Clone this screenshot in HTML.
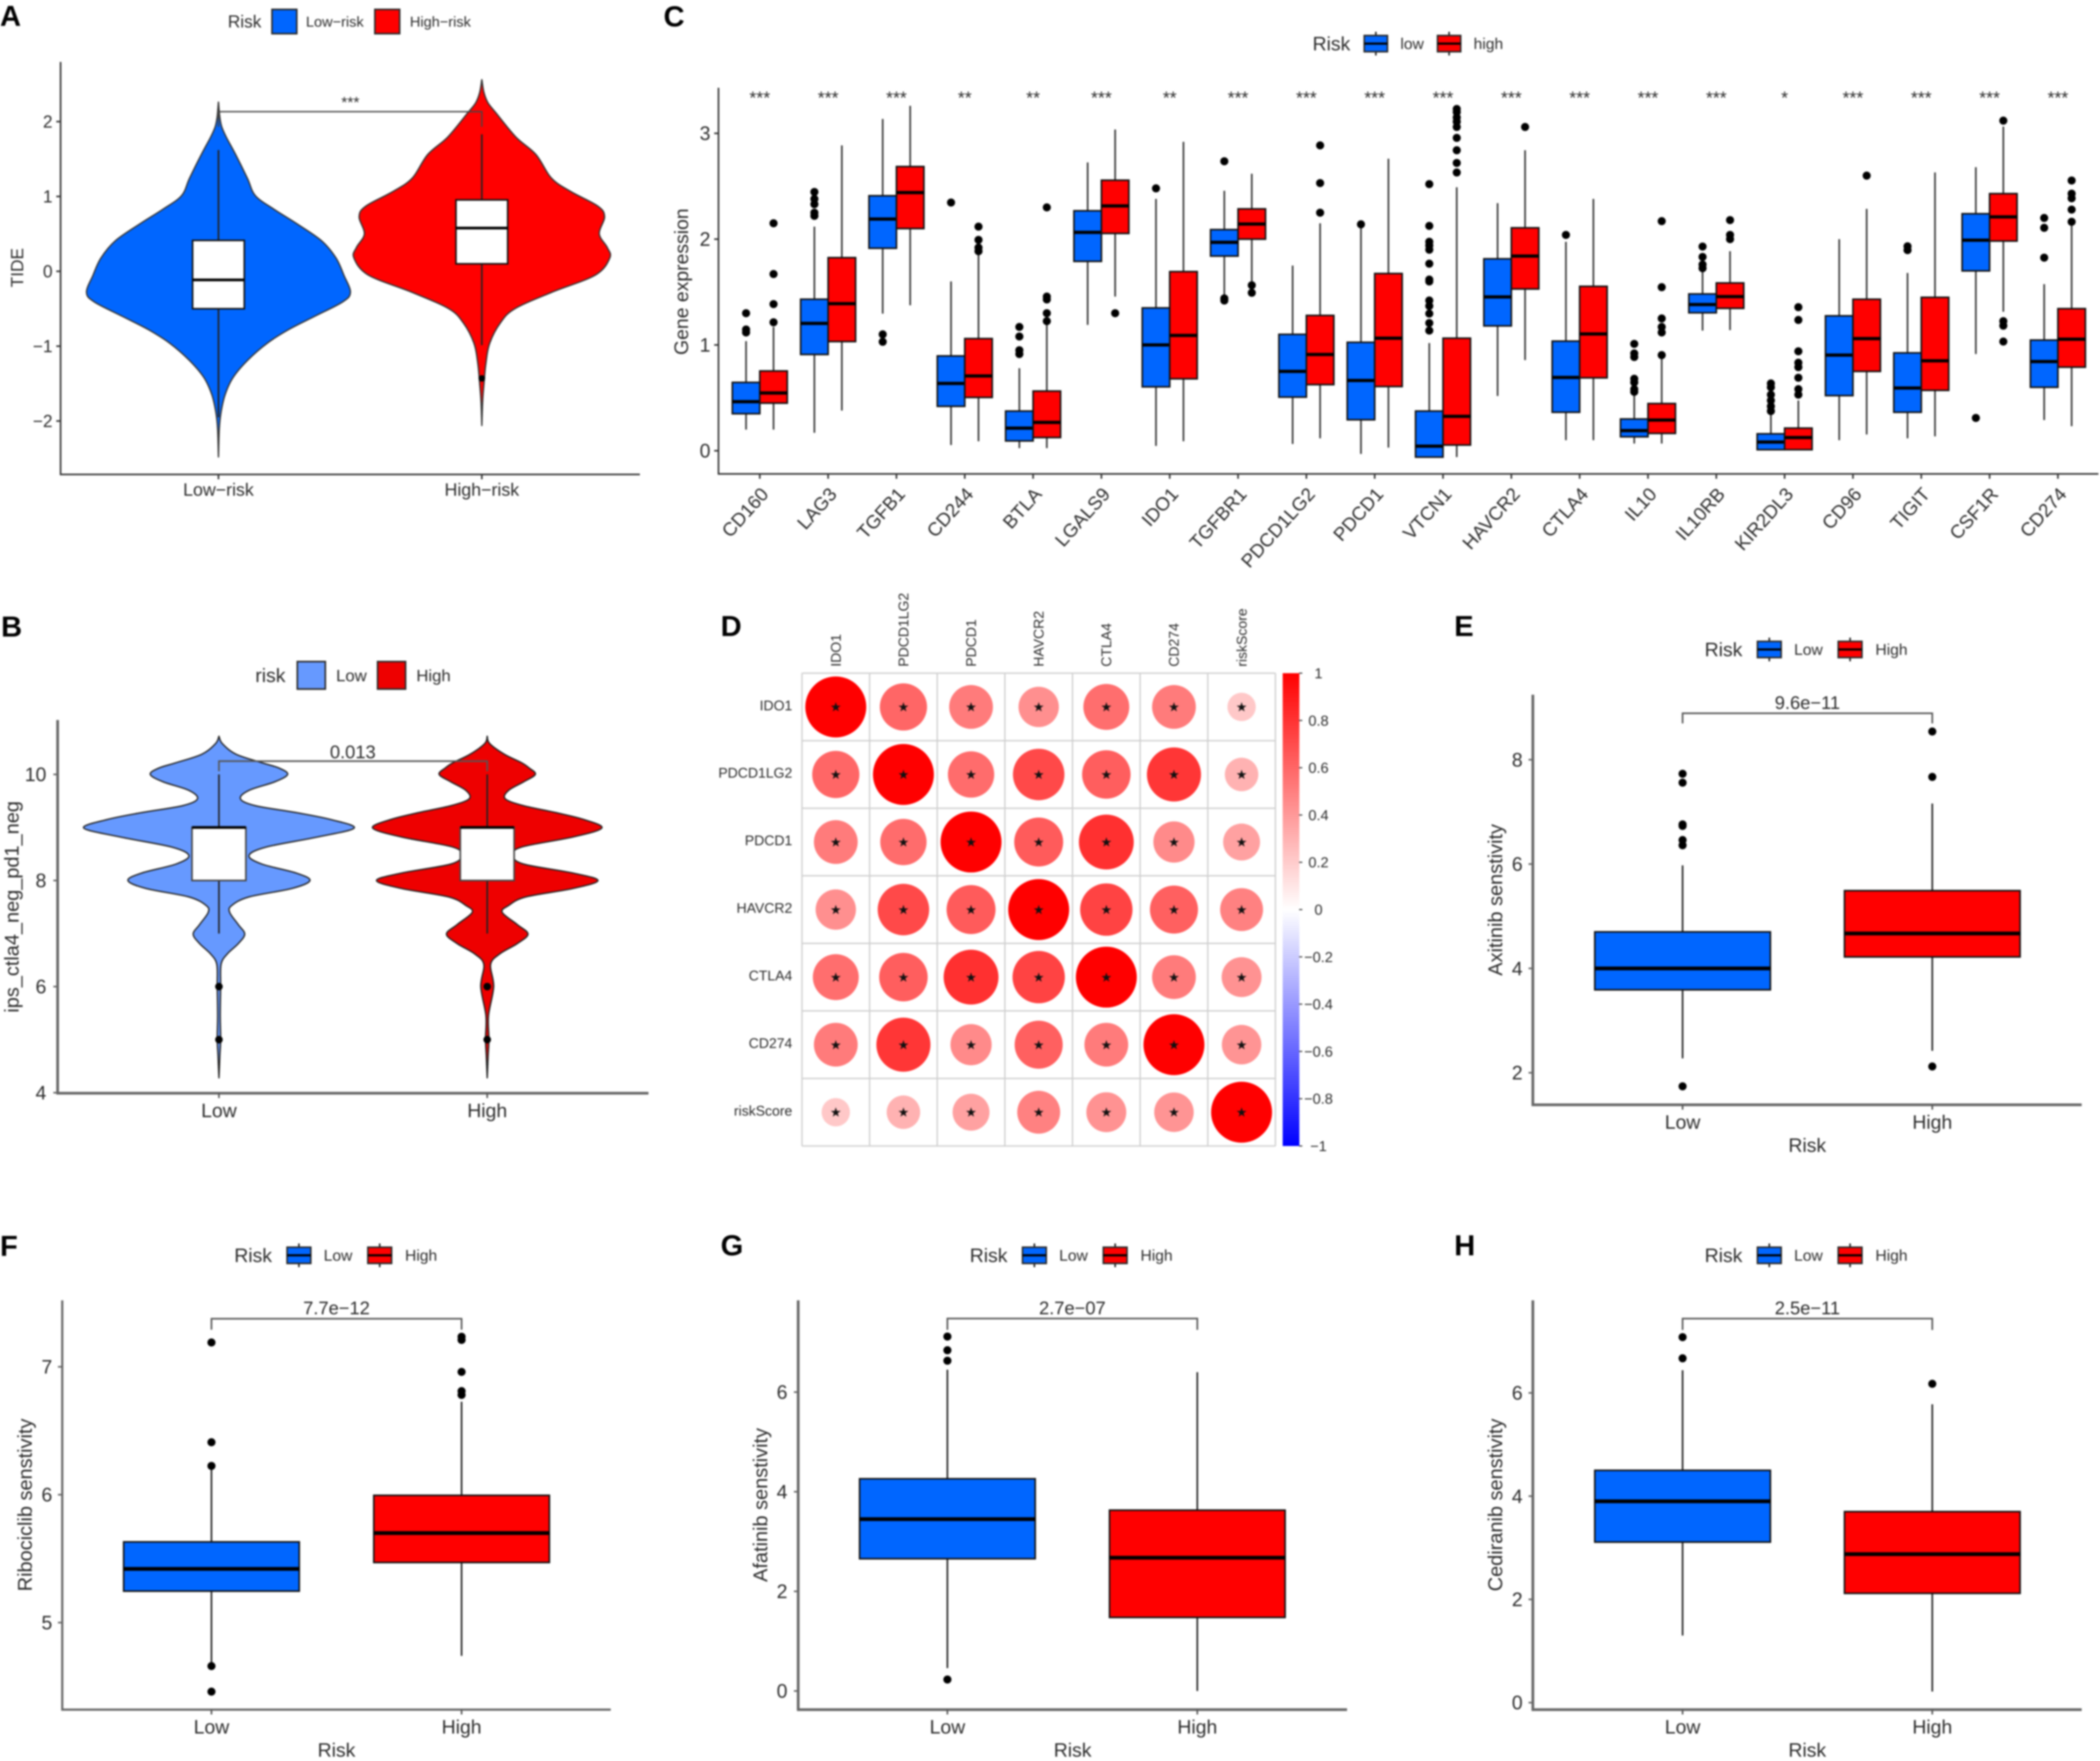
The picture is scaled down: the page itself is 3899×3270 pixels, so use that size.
<!DOCTYPE html>
<html lang="en">
<head>
<meta charset="utf-8">
<title>Immune and drug sensitivity figure</title>
<style>
html,body{margin:0;padding:0;background:#fff;}
#figure{display:block;filter:blur(1.6px);font-family:"Liberation Sans",sans-serif;}
</style>
</head>
<body>
<svg id="figure" xmlns="http://www.w3.org/2000/svg" width="3899" height="3270" viewBox="0 0 3899 3270">
  <defs>
    <linearGradient id="corr-gradient" x1="0" y1="0" x2="0" y2="1">
      <stop offset="0" stop-color="#ff0000"/>
      <stop offset="0.5" stop-color="#ffffff"/>
      <stop offset="1" stop-color="#0000ff"/>
    </linearGradient>
  </defs>
  <rect x="0" y="0" width="3899" height="3270" fill="#ffffff"/>
  <g id="panel-a"></g>
  <g id="panel-b"></g>
  <g id="panel-c"></g>
  <g id="panel-d"></g>
  <g id="panel-e"></g>
  <g id="panel-f"></g>
  <g id="panel-g"></g>
  <g id="panel-h"></g>
</svg>
<script>
/* ---------- Panel A data ---------- */
const aTicks = [-2, -1, 0, 1, 2];
const aCategories = ['Low\u2212risk', 'High\u2212risk'];
const aLowY = [2.26,2.06,1.93,1.79,1.56,1.24,1.01,0.83,0.64,0.41,0.18,-0.05,-0.28,-0.41,-0.60,-0.78,-0.96,-1.19,-1.42,-1.65,-1.88,-2.11,-2.48];
const aLowDensity = [0,1,2.5,6,13,22,28,42,59,78,89,95,100,94,73,53,37,22,11,5,2,0.6,0];
const aHighY = [2.56,2.39,2.25,2.11,1.79,1.56,1.24,1.06,0.87,0.73,0.50,0.32,0.18,-0.05,-0.28,-0.50,-0.69,-0.96,-1.24,-1.51,-1.74,-2.06];
const aHighDensity = [0,1.6,4.7,11,26,41,53,68,88,93,89,95,97,86,53,25,14,6,3,1.6,0.6,0];
/* box tuples: q3, q1, median, whisker top, whisker bottom */
const aLowBox = [0.413,-0.50,-0.115,1.62,-1.95];
const aHighBox = [0.954,0.10,0.578,1.83,-0.986];
const aLowOut = [];
const aHighOut = [-1.43];
const aBracket = [2.133,1.93];

/* ---------- Panel B data ---------- */
const bTicks = [4, 6, 8, 10];
const bCategories = ['Low', 'High'];
const bY = [10.72,10.58,10.38,10.22,10.12,10,9.86,9.70,9.54,9.41,9.28,9.15,8.99,8.82,8.63,8.47,8.31,8.14,8,7.85,7.69,7.53,7.40,7.17,6.99,6.81,6.62,6.42,6,5.45,5.01,4.67,4.28];
const bLowDensity = [0,8,40,100,140,160,130,70,50,85,180,260,315,230,110,70,100,180,212,170,70,30,25,45,60,45,20,5,4,3,4,2,0];
const bHighDensity = [0,6,40,80,98,112,85,50,42,85,160,225,267,200,80,60,85,200,258,200,90,50,35,70,95,70,30,8,15,3,4,2,0];
const bLowBox = [9,8,9,10,7];
const bHighBox = [9,8,9,10,7];
const bLowOut = [6,5];
const bHighOut = [6,5];
const bBracket = [10.25,10.06];

/* ---------- Panel C data ---------- */
const cGenes = ['CD160','LAG3','TGFB1','CD244','BTLA','LGALS9','IDO1','TGFBR1','PDCD1LG2','PDCD1','VTCN1','HAVCR2','CTLA4','IL10','IL10RB','KIR2DL3','CD96','TIGIT','CSF1R','CD274'];
const cTicks = [0, 1, 2, 3];
const cStars = ['***','***','***','**','**','***','**','***','***','***','***','***','***','***','***','*','***','***','***','***'];
const cLowBoxes = [
 [0.646,0.35,0.464,1.036,0.2],[1.432,0.91,1.204,2.118,0.17],[2.41,1.914,2.19,3.136,1.296],[0.896,0.42,0.636,1.6,0.054],[0.375,0.093,0.214,0.78,0.025],
 [2.268,1.79,2.064,2.725,1.19],[1.35,0.604,1.0,2.38,0.046],[2.09,1.84,1.97,2.457,1.46],[1.1,0.507,0.75,1.75,0.064],[1.025,0.293,0.664,2.118,-0.03],
 [0.375,-0.06,0.043,1.018,-0.06],[1.814,1.18,1.454,2.34,0.518],[1.036,0.364,0.693,1.975,0.1],[0.3,0.132,0.19,0.546,0.068],[1.482,1.304,1.382,1.707,1.136],
 [0.16,0.01,0.082,0.35,0.01],[1.275,0.521,0.904,2.0,0.1],[0.925,0.364,0.593,1.68,0.118],[2.24,1.7,1.99,2.68,0.914],[1.046,0.6,0.843,1.575,0.29]
];
const cHighBoxes = [
 [0.754,0.45,0.546,1.17,0.2],[1.825,1.032,1.39,2.886,0.38],[2.686,2.1,2.44,3.26,1.375],[1.06,0.504,0.707,1.886,0.09],[0.564,0.125,0.268,1.225,0.025],
 [2.557,2.054,2.314,3.036,1.457],[1.693,0.68,1.09,2.92,0.09],[2.286,2.0,2.143,2.618,1.6],[1.279,0.625,0.91,2.15,0.118],[1.675,0.607,1.064,2.76,0.03],
 [1.064,0.054,0.325,2.49,-0.06],[2.107,1.529,1.84,2.84,0.857],[1.554,0.689,1.104,2.38,0.1],[0.446,0.164,0.29,0.886,0.068],[1.586,1.346,1.457,1.886,1.14],
 [0.214,0.01,0.125,0.475,0.01],[1.432,0.75,1.06,2.286,0.154],[1.45,0.571,0.85,2.63,0.136],[2.43,1.982,2.21,3.064,1.314],[1.343,0.79,1.054,2.154,0.232]
];
const cLowOutliers = [
 [1.30,1.146,1.118],[2.446,2.38,2.33,2.25,2.22],[1.1,1.03],[2.346],[1.17,1.08,0.95,0.914],
 [],[2.48],[2.736,1.44,1.42],[],[2.14],
 [2.52,2.125,1.975,1.94,1.90,1.768,1.618,1.6,1.42,1.368,1.296,1.207,1.136],[],[2.04],[1.01,0.92,0.886,0.68,0.646,0.582,0.557],[1.93,1.832,1.76,1.725],
 [0.636,0.6,0.53,0.475,0.42,0.375],[],[1.932,1.896],[0.31],[2.2,2.107,1.825]
];
const cHighOutliers = [
 [1.214,1.386,1.67,2.15],[],[],[2.118,1.993,1.92,1.886],[2.30,1.457,1.43,1.30,1.225],
 [1.30],[],[1.564,1.493],[2.886,2.53,2.25],[],
 [3.23,3.2,3.15,3.11,3.06,2.957,2.84,2.72,2.63],[3.06],[],[2.17,1.546,1.25,1.17,1.118,0.904],[2.18,2.04,2.0],
 [1.357,1.236,0.94,0.832,0.79,0.69,0.582,0.53],[2.6],[],[3.12,1.225,1.182,1.032],[2.554,2.43,2.386,2.279,2.164]
];

/* ---------- Panel D data ---------- */
const dLabels = ['IDO1','PDCD1LG2','PDCD1','HAVCR2','CTLA4','CD274','riskScore'];
const dMatrix = [
 [1,0.60,0.516,0.438,0.568,0.516,0.216],
 [0.60,1,0.578,0.714,0.633,0.787,0.302],
 [0.516,0.578,1,0.645,0.81,0.457,0.367],
 [0.438,0.714,0.645,1,0.738,0.622,0.496],
 [0.568,0.633,0.81,0.738,1,0.516,0.429],
 [0.516,0.787,0.457,0.622,0.516,1,0.42],
 [0.216,0.302,0.367,0.496,0.429,0.42,1]
];
const dBarTicks = [1,0.8,0.6,0.4,0.2,0,-0.2,-0.4,-0.6,-0.8,-1];

/* ---------- Panels E-H data ---------- */
const drugCategories = ['Low','High'];
const eTicks = [2,4,6,8];
const eLowBox = [4.70,3.59,4.0,5.975,2.276];
const eHighBox = [5.49,4.22,4.67,7.16,2.42];
const eLowOut = [7.73,7.56,6.76,6.73,6.46,6.36,1.74];
const eHighOut = [8.54,7.67,2.12];
const eBracket = [8.89,8.696];

const fTicks = [5,6,7];
const fLowBox = [5.631,5.246,5.42,6.2,4.67];
const fHighBox = [5.995,5.47,5.70,6.727,4.74];
const fLowOut = [7.19,6.41,6.225,4.66,4.46];
const fHighOut = [7.235,7.21,6.96,6.81,6.78];
const fBracket = [7.376,7.29];

const gTicks = [0,2,4,6];
const gLowBox = [4.26,2.655,3.45,6.45,0.46];
const gHighBox = [3.63,1.477,2.676,6.4,0];
const gLowOut = [7.115,6.84,6.63,0.23];
const gHighOut = [];
const gBracket = [7.477,7.25];

const hTicks = [0,2,4,6];
const hLowBox = [4.5,3.11,3.9,6.44,1.3];
const hHighBox = [3.7,2.117,2.876,5.78,0.215];
const hLowOut = [7.08,6.67];
const hHighOut = [6.176];
const hBracket = [7.44,7.22];

/* ---------- Helpers ---------- */
const SVG_NS = 'http://www.w3.org/2000/svg';
const BLUE = '#0066ff', RED = '#ff0000', INK = '#2b2b2b';

function mk(parent, tag, name, attrs) {
  const el = document.createElementNS(SVG_NS, tag);
  
  
  for (const k in attrs) el.setAttribute(k, attrs[k]);
  parent.appendChild(el);
  return el;
}
function panel(id) { return document.getElementById(id); }
function axisScale(v0, p0, v1, p1) { return v => p0 + (v - v0) * (p1 - p0) / (v1 - v0); }
function txt(parent, name, x, y, str, o) {
  o = o || {};
  const a = { x: x, y: y, 'font-size': o.size || 36, 'text-anchor': o.anchor || 'middle', fill: o.fill || INK };
  if (!o.baseline) a.dy = '0.35em';
  if (o.weight) a['font-weight'] = o.weight;
  if (o.family) a['font-family'] = o.family;
  if (o.rot) a.transform = 'rotate(' + o.rot + ' ' + x + ' ' + y + ')';
  const el = mk(parent, 'text', name, a);
  el.textContent = str;
  return el;
}
function line(parent, name, x1, y1, x2, y2, color, w) {
  return mk(parent, 'line', name, { x1: x1, y1: y1, x2: x2, y2: y2, stroke: color, 'stroke-width': w });
}
function fmt(v) { return String(v).replace('-', '\u2212'); }

function axes(g, o) {
  line(g, 'y-axis-line', o.x0, o.top, o.x0, o.bottom + o.w / 2, o.color, o.w);
  line(g, 'x-axis-line', o.x0, o.bottom, o.right, o.bottom, o.color, o.w);
  o.ticks.forEach(t => {
    line(g, 'y-axis-tick', o.x0 - 8, o.y(t), o.x0, o.y(t), o.color, 3);
    txt(g, 'y-tick-label', o.x0 - o.labelGap, o.y(t), fmt(t), { anchor: 'end', size: o.tickSize });
  });
}
function catTick(g, x, bottom, color, label, labelY, size) {
  line(g, 'x-axis-tick', x, bottom, x, bottom + 9, color, 3);
  if (label) txt(g, 'x-tick-label', x, labelY, label, { size: size });
}

function drawBox(g, x, halfW, stats, outliers, fill, y, s) {
  const q3 = stats[0], q1 = stats[1], med = stats[2], top = stats[3], bot = stats[4];
  line(g, 'whisker', x, y(top), x, y(bot), s.whisker || '#222', s.lw);
  mk(g, 'rect', 'box', { x: x - halfW, y: y(q3), width: 2 * halfW, height: y(q1) - y(q3), fill: fill, stroke: s.stroke || '#111', 'stroke-width': s.lw });
  line(g, 'median-line', x - halfW, y(med), x + halfW, y(med), '#000', s.medLw);
  outliers.forEach(v => {
    mk(g, 'circle', 'outlier-point', { cx: x, cy: y(v), r: s.r, fill: '#000' });
  });
}

function smoothSide(pts) {
  /* Catmull-Rom through points, returned as cubic Bezier segments */
  let d = '';
  for (let i = 0; i < pts.length - 1; i++) {
    const p0 = pts[Math.max(i - 1, 0)], p1 = pts[i], p2 = pts[i + 1], p3 = pts[Math.min(i + 2, pts.length - 1)];
    const c1x = p1[0] + (p2[0] - p0[0]) / 6, c1y = p1[1] + (p2[1] - p0[1]) / 6;
    const c2x = p2[0] - (p3[0] - p1[0]) / 6, c2y = p2[1] - (p3[1] - p1[1]) / 6;
    d += 'C' + c1x.toFixed(1) + ' ' + c1y.toFixed(1) + ' ' + c2x.toFixed(1) + ' ' + c2y.toFixed(1) + ' ' + p2[0].toFixed(1) + ' ' + p2[1].toFixed(1);
  }
  return d;
}
function violin(g, name, cx, values, density, k, y, fill, stroke, lw) {
  const right = values.map((v, i) => [cx + density[i] * k, y(v)]);
  const left = values.map((v, i) => [cx - density[i] * k, y(v)]).reverse();
  const d = 'M' + right[0][0] + ' ' + right[0][1] + smoothSide(right) + smoothSide(left) + 'Z';
  mk(g, 'path', name, { d: d, fill: fill, stroke: stroke, 'stroke-width': lw, 'stroke-linejoin': 'round' });
}
function bracket(g, x1, x2, y, bracketVals, color, w) {
  const yTop = y(bracketVals[0]), yTip = y(bracketVals[1]);
  mk(g, 'path', 'significance-bracket', { d: 'M' + x1 + ' ' + yTip + 'L' + x1 + ' ' + yTop + 'L' + x2 + ' ' + yTop + 'L' + x2 + ' ' + yTip, fill: 'none', stroke: color, 'stroke-width': w });
}
function legend(g, o) {
  txt(g, 'legend-title', o.titleX, o.y, o.title, { anchor: 'start', size: o.titleSize || 36 });
  o.items.forEach(it => {
    const h = o.swH, w = o.swW;
    if (o.boxKey) {
      line(g, 'legend-key-whisker', it.x + w / 2, o.y - h / 2 - 7, it.x + w / 2, o.y + h / 2 + 7, '#222', 3);
    }
    mk(g, 'rect', 'legend-key', { x: it.x, y: o.y - h / 2, width: w, height: h, fill: it.fill, stroke: '#2a2a2a', 'stroke-width': 3 });
    if (o.boxKey) {
      line(g, 'legend-key-median', it.x, o.y, it.x + w, o.y, '#000', 4);
    }
    txt(g, 'legend-entry', it.tx, o.y, it.label, { anchor: 'start', size: o.size || 29 });
  });
}

/* ---------- Panel letters ---------- */
function letter(id, ch, x, y) {
  txt(panel(id), 'panel-label', x, y, ch, { anchor: 'start', size: 54, weight: 'bold', fill: '#000', baseline: true });
}
letter('panel-a', 'A', 0, 48);
letter('panel-b', 'B', 2, 1182);
letter('panel-c', 'C', 1232, 49);
letter('panel-d', 'D', 1338, 1181);
letter('panel-e', 'E', 2700, 1181);
letter('panel-f', 'F', 0, 2332);
letter('panel-g', 'G', 1338, 2331);
letter('panel-h', 'H', 2700, 2331);

/* ---------- Panel A ---------- */
(function () {
  const g = panel('panel-a');
  const y = axisScale(0, 503.8, 2, 225.8);
  const xs = [405.6, 894.6];
  legend(g, { title: 'Risk', titleX: 423, y: 40, titleSize: 32, swW: 46, swH: 45, size: 27,
    items: [{ x: 505, fill: BLUE, tx: 568, label: 'Low\u2212risk' }, { x: 696, fill: RED, tx: 761, label: 'High\u2212risk' }] });
  violin(g, 'violin-low-risk', xs[0], aLowY, aLowDensity, 2.45, y, BLUE, '#333', 2.5);
  violin(g, 'violin-high-risk', xs[1], aHighY, aHighDensity, 2.45, y, RED, '#333', 2.5);
  drawBox(g, xs[0], 48, aLowBox, aLowOut, '#ffffff', y, { lw: 3, medLw: 5, r: 6 });
  drawBox(g, xs[1], 48, aHighBox, aHighOut, '#ffffff', y, { lw: 3, medLw: 5, r: 6 });
  bracket(g, xs[0], xs[1], y, aBracket, '#444', 2.5);
  txt(g, 'significance-stars', 650.5, 189.7, '***', { size: 29 });
  axes(g, { x0: 112.5, top: 115, bottom: 881, right: 1188, w: 3, color: '#333', ticks: aTicks, y: y, labelGap: 15, tickSize: 32 });
  xs.forEach((x, i) => catTick(g, x, 881, '#333', aCategories[i], 909, 33));
  txt(g, 'y-axis-title', 32, 497, 'TIDE', { size: 32, rot: -90 });
})();

/* ---------- Panel B ---------- */
(function () {
  const g = panel('panel-b');
  const y = axisScale(8, 1635, 10, 1438);
  const xs = [406.5, 904.6];
  legend(g, { title: 'risk', titleX: 474, y: 1254, swW: 52, swH: 51, size: 31,
    items: [{ x: 552, fill: '#6699ff', tx: 624, label: 'Low' }, { x: 701, fill: '#ee0000', tx: 773, label: 'High' }] });
  violin(g, 'violin-low', xs[0], bY, bLowDensity, 0.797, y, '#6699ff', '#222', 2.5);
  violin(g, 'violin-high', xs[1], bY, bHighDensity, 0.797, y, '#ee0000', '#222', 2.5);
  drawBox(g, xs[0], 50, bLowBox, bLowOut, '#ffffff', y, { lw: 3, medLw: 5, r: 7, stroke: '#444' });
  drawBox(g, xs[1], 50, bHighBox, bHighOut, '#ffffff', y, { lw: 3, medLw: 5, r: 7, stroke: '#444' });
  bracket(g, xs[0], xs[1], y, bBracket, '#555', 3);
  txt(g, 'p-value-label', 655, 1396, '0.013', { size: 34 });
  axes(g, { x0: 107, top: 1337, bottom: 2030, right: 1204, w: 5, color: '#666', ticks: bTicks, y: y, labelGap: 21, tickSize: 36 });
  xs.forEach((x, i) => catTick(g, x, 2030, '#555', bCategories[i], 2062, 36));
  txt(g, 'y-axis-title', 21.5, 1684, 'ips_ctla4_neg_pd1_neg', { size: 37, rot: -90 });
})();

/* ---------- Panel C ---------- */
(function () {
  const g = panel('panel-c');
  const y = axisScale(0, 837, 3, 247.6);
  const band = i => 1410.7 + i * 126.85;
  legend(g, { title: 'Risk', titleX: 2437, y: 81, swW: 43, swH: 30, size: 29, boxKey: true,
    items: [{ x: 2533, fill: BLUE, tx: 2600, label: 'low' }, { x: 2669, fill: RED, tx: 2736, label: 'high' }] });
  cGenes.forEach((gene, i) => {
    const x = band(i);
    drawBox(g, x - 25.5, 25.5, cLowBoxes[i], cLowOutliers[i], BLUE, y, { lw: 3, medLw: 6, r: 7.5, whisker: '#333' });
    drawBox(g, x + 25.5, 25.5, cHighBoxes[i], cHighOutliers[i], RED, y, { lw: 3, medLw: 6, r: 7.5, whisker: '#333' });
    txt(g, 'significance-stars', x, 181.5, cStars[i], { size: 33 });
    line(g, 'x-axis-tick', x, 880, x, 889, '#333', 3);
    txt(g, 'gene-label', x + 18, 919, gene, { size: 35, anchor: 'end', rot: -48, baseline: true });
  });
  axes(g, { x0: 1334, top: 163, bottom: 880, right: 3896, w: 3, color: '#333', ticks: cTicks, y: y, labelGap: 15, tickSize: 36 });
  txt(g, 'y-axis-title', 1265, 523, 'Gene expression', { size: 36, rot: -90 });
})();

/* ---------- Panel D ---------- */
(function () {
  const g = panel('panel-d');
  const n = dLabels.length;
  const colX = axisScale(0, 1489, n, 2368);
  const rowY = axisScale(0, 1250, n, 2128);
  for (let i = 0; i <= n; i++) {
    line(g, 'grid-line-vertical', colX(i), rowY(0), colX(i), rowY(n), '#cfcfcf', 2.5);
    line(g, 'grid-line-horizontal', colX(0), rowY(i), colX(n), rowY(i), '#cfcfcf', 2.5);
  }
  dLabels.forEach((lab, i) => {
    txt(g, 'column-label', colX(i + 0.5), 1238, lab, { size: 26, anchor: 'start', rot: -90 });
    txt(g, 'row-label', 1471, rowY(i + 0.5) - 3, lab, { size: 26, anchor: 'end' });
  });
  const maxR = 56.6;
  dMatrix.forEach((row, r) => row.forEach((val, c) => {
    const shade = Math.round(255 * (1 - val));
    const cx = colX(c + 0.5), cy = rowY(r + 0.5);
    mk(g, 'circle', 'correlation-circle', { cx: cx, cy: cy, r: maxR * Math.sqrt(val), fill: 'rgb(255,' + shade + ',' + shade + ')' });
    txt(g, 'significance-star', cx, cy, '\u2605', { size: 24, fill: '#111', family: '"DejaVu Sans",sans-serif' });
  }));
  const barY = axisScale(1, 1250, -1, 2128);
  mk(g, 'rect', 'colorbar', { x: 2381.5, y: 1250, width: 31, height: 878, fill: 'url(#corr-gradient)' });
  dBarTicks.forEach(t => {
    line(g, 'colorbar-tick', 2412, barY(t), 2418, barY(t), '#333', 2);
    txt(g, 'colorbar-label', 2448, barY(t), fmt(t), { size: 27 });
  });
})();

/* ---------- Panels E-H ---------- */
function drugPanel(id, o) {
  const g = panel(id);
  const y = axisScale(o.tickA, o.pxA, o.tickB, o.pxB);
  const xs = [o.xLow, o.xHigh];
  legend(g, { title: 'Risk', titleX: o.legX, y: o.legY, swW: 44, swH: 30, size: 29, boxKey: true,
    items: [{ x: o.legX + 98, fill: BLUE, tx: o.legX + 166, label: 'Low' }, { x: o.legX + 248, fill: RED, tx: o.legX + 317, label: 'High' }] });
  const style = { lw: 3, medLw: 7, r: 7.5, whisker: '#222' };
  drawBox(g, xs[0], 163, o.lowBox, o.lowOut, BLUE, y, style);
  drawBox(g, xs[1], 163, o.highBox, o.highOut, RED, y, style);
  bracket(g, xs[0], xs[1], y, o.bracket, '#555', 3);
  txt(g, 'p-value-label', (xs[0] + xs[1]) / 2, y(o.bracket[0]) - 20, o.pValue, { size: 34 });
  axes(g, { x0: o.x0, top: o.top, bottom: o.bottom, right: o.right, w: o.axisW, color: '#666', ticks: o.ticks, y: y, labelGap: o.labelGap, tickSize: 36 });
  xs.forEach((x, i) => catTick(g, x, o.bottom, '#555', drugCategories[i], o.bottom + 32, 36));
  txt(g, 'x-axis-title', (o.x0 + o.right) / 2, o.bottom + 75, 'Risk', { size: 36 });
  txt(g, 'y-axis-title', o.yTitleX, o.yTitleY, o.yTitle, { size: 37, rot: -90 });
}
drugPanel('panel-e', { tickA: 2, pxA: 1992, tickB: 8, pxB: 1410.7, xLow: 3124, xHigh: 3587.6, legX: 3165, legY: 1206,
  lowBox: eLowBox, highBox: eHighBox, lowOut: eLowOut, highOut: eHighOut, bracket: eBracket, pValue: '9.6e\u221211', ticks: eTicks,
  x0: 2846, top: 1290, bottom: 2051.5, right: 3865, axisW: 5, labelGap: 19, yTitleX: 2776, yTitleY: 1671, yTitle: 'Axitinib senstivity' });
drugPanel('panel-f', { tickA: 5, pxA: 3013, tickB: 7, pxB: 2538, xLow: 392.6, xHigh: 857, legX: 435, legY: 2331,
  lowBox: fLowBox, highBox: fHighBox, lowOut: fLowOut, highOut: fHighOut, bracket: fBracket, pValue: '7.7e\u221212', ticks: fTicks,
  x0: 115.6, top: 2414.6, bottom: 3174.6, right: 1134, axisW: 4, labelGap: 18.6, yTitleX: 46, yTitleY: 2794.5, yTitle: 'Ribociclib senstivity' });
drugPanel('panel-g', { tickA: 0, pxA: 3140, tickB: 6, pxB: 2585, xLow: 1759, xHigh: 2223, legX: 1800.5, legY: 2331,
  lowBox: gLowBox, highBox: gHighBox, lowOut: gLowOut, highOut: gHighOut, bracket: gBracket, pValue: '2.7e\u221207', ticks: gTicks,
  x0: 1482, top: 2414.6, bottom: 3174.6, right: 2501, axisW: 5, labelGap: 20, yTitleX: 1411.6, yTitleY: 2794.5, yTitle: 'Afatinib senstivity' });
drugPanel('panel-h', { tickA: 0, pxA: 3161.6, tickB: 6, pxB: 2586.5, xLow: 3124, xHigh: 3587.6, legX: 3165, legY: 2331,
  lowBox: hLowBox, highBox: hHighBox, lowOut: hLowOut, highOut: hHighOut, bracket: hBracket, pValue: '2.5e\u221211', ticks: hTicks,
  x0: 2846, top: 2414.6, bottom: 3174.6, right: 3865, axisW: 5, labelGap: 19, yTitleX: 2776, yTitleY: 2794.5, yTitle: 'Cediranib senstivity' });
</script>
</body>
</html>
